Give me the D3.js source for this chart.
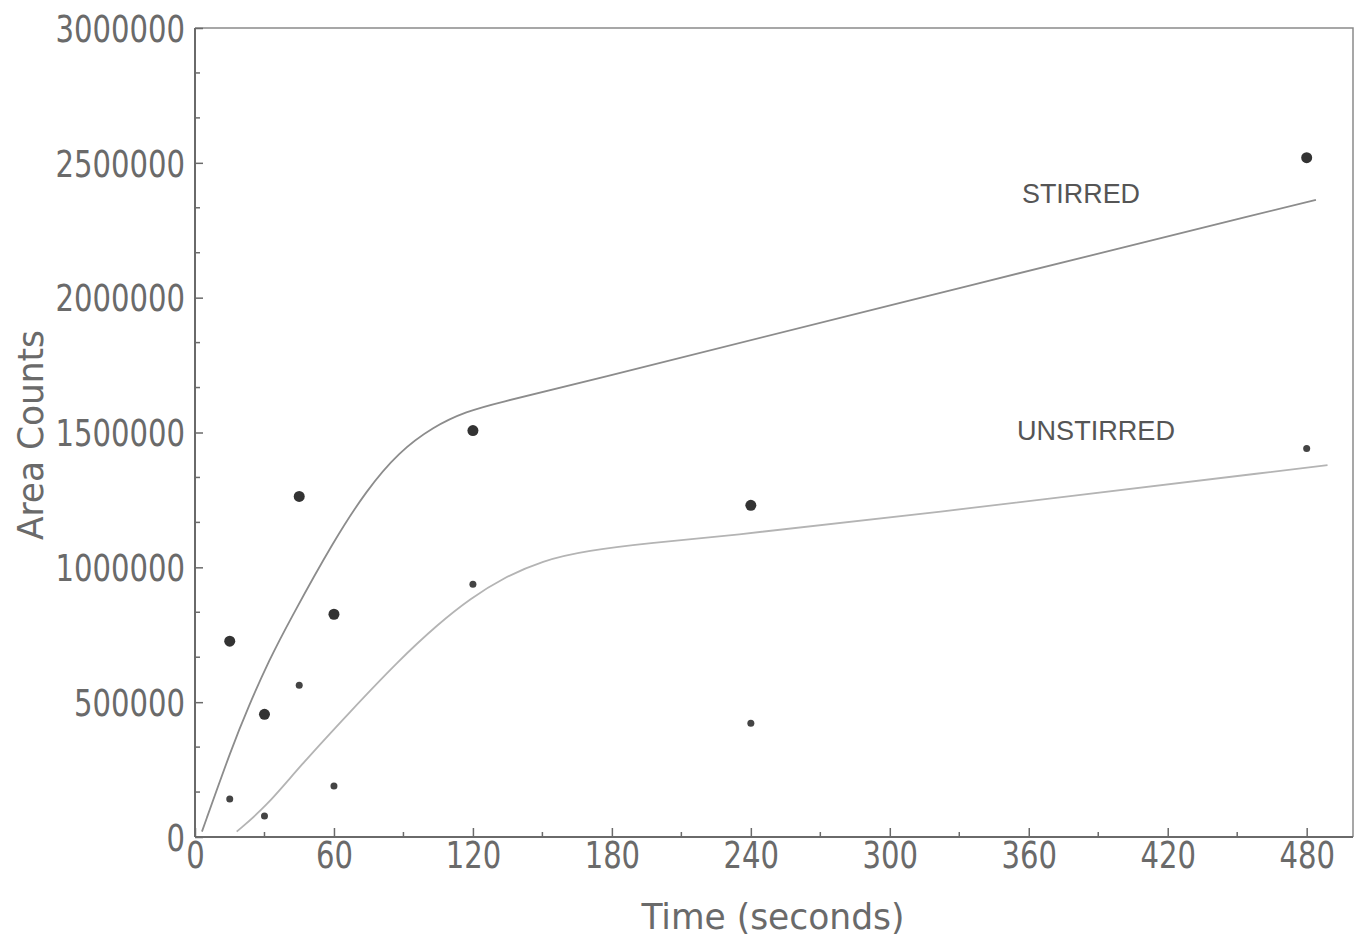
<!DOCTYPE html>
<html>
<head>
<meta charset="utf-8">
<script src="https://cdn.jsdelivr.net/npm/d3@7"></script>
<style>
  body { margin: 0; background: #fff; }
  svg { display: block; }
</style>
</head>
<body>
<svg id="chart" width="1354" height="940" viewBox="0 0 1354 940"></svg>
<script>
// measured points
const times = [15, 30, 45, 60, 120, 240, 480]
const stirred = [726000, 455000, 1263000, 826000, 1507000, 1230000, 2519000]
const unstirred = [141000, 78000, 563000, 189000, 937000, 422000, 1441000]

// fitted curves as drawn on the plot
const stirredFitT = [3, 16, 23, 32, 41, 60, 74, 88, 103, 117, 132, 158, 304, 484]
const stirredFitV = [20000, 334000, 482000, 656000, 805000, 1100000, 1285000, 1428000, 1522000, 1578000, 1613000, 1665000, 1981000, 2363000]
const unstirredFitT = [18, 31, 45, 67, 88, 105, 119, 133, 150, 169, 198, 227, 304, 489]
const unstirredFitV = [20000, 115000, 260000, 465000, 655000, 790000, 885000, 960000, 1025000, 1062000, 1092000, 1114000, 1187000, 1379000]

const xTicks = [0, 60, 120, 180, 240, 300, 360, 420, 480]
const yTicks = [0, 500000, 1000000, 1500000, 2000000, 2500000, 3000000]

let svg = d3.select("#chart")
const mLeft = 195, mRight = 1353, mTop = 28, mBottom = 837

let x = d3.scaleLinear().domain([0, 500]).range([mLeft, mRight])
let y = d3.scaleLinear().domain([0, 3000000]).range([mBottom, mTop])

const axisColor = "#6a6a6a"
const textColor = "#6a6a6a"
const plotFont = "'DejaVu Sans Condensed', 'Liberation Sans Narrow', sans-serif"

// frame (top + right)
svg.append("path")
    .attr("d", `M${mLeft},${mTop}H${mRight}V${mBottom}`)
    .attr("fill", "none")
    .attr("stroke", "#8a8a8a")
    .attr("stroke-width", 1.5)

// minor ticks
let minorX = d3.range(30, 500, 60)
let minorY = d3.range(0, 3000001, 500000 / 3).filter(v => Math.round(v) % 500000 !== 0)

let xAxis = svg.append("g")
    .attr("transform", `translate(0,${mBottom})`)
    .call(d3.axisBottom(x).tickValues(xTicks).tickSize(-9).tickPadding(24).tickFormat(d3.format("d")))
let yAxis = svg.append("g")
    .attr("transform", `translate(${mLeft},0)`)
    .call(d3.axisLeft(y).tickValues(yTicks).tickSize(-8).tickPadding(10).tickFormat(d3.format("d")))

xAxis.selectAll(".tick line").attr("stroke", axisColor).attr("stroke-width", 1.5)
yAxis.selectAll(".tick line").attr("stroke", axisColor).attr("stroke-width", 1.5)
xAxis.select(".domain").attr("stroke", axisColor).attr("stroke-width", 2).attr("d", `M${mLeft},0H${mRight}`)
yAxis.select(".domain").attr("stroke", axisColor).attr("stroke-width", 2).attr("d", `M0,${mTop}V${mBottom}`)

svg.append("g").selectAll("line")
    .data(minorX)
    .enter().append("line")
    .attr("x1", d => x(d)).attr("x2", d => x(d))
    .attr("y1", mBottom).attr("y2", mBottom - 5)
    .attr("stroke", axisColor).attr("stroke-width", 1.5)
svg.append("g").selectAll("line")
    .data(minorY)
    .enter().append("line")
    .attr("x1", mLeft - 1).attr("x2", mLeft + 5)
    .attr("y1", d => y(d)).attr("y2", d => y(d))
    .attr("stroke", axisColor).attr("stroke-width", 1.5)

// tick label styling: tall narrow plotter digits
svg.selectAll(".tick text")
    .attr("fill", textColor)
    .attr("font-family", plotFont)
    .attr("font-size", 37)
    .attr("lengthAdjust", "spacingAndGlyphs")
    .attr("textLength", function () { return this.textContent.length * 18.5 })
yAxis.selectAll(".tick text").attr("dy", "0.36em")
xAxis.selectAll(".tick text").attr("dy", "0.2em")

// axis titles
svg.append("text")
    .attr("x", 773).attr("y", 929)
    .attr("text-anchor", "middle")
    .attr("fill", textColor)
    .attr("font-family", plotFont)
    .attr("font-size", 35)
    .attr("lengthAdjust", "spacingAndGlyphs")
    .attr("textLength", 263)
    .text("Time (seconds)")
svg.append("text")
    .attr("transform", "translate(43,435) rotate(-90)")
    .attr("text-anchor", "middle")
    .attr("fill", textColor)
    .attr("font-family", plotFont)
    .attr("font-size", 36)
    .attr("lengthAdjust", "spacingAndGlyphs")
    .attr("textLength", 210)
    .text("Area Counts")

// fitted curves
let line = d3.line()
    .x(d => x(d[0]))
    .y(d => y(d[1]))
    .curve(d3.curveBasis)

svg.append("path")
    .datum(d3.zip(stirredFitT, stirredFitV))
    .attr("d", line)
    .attr("fill", "none")
    .attr("stroke", "#8c8c8c")
    .attr("stroke-width", 1.8)
svg.append("path")
    .datum(d3.zip(unstirredFitT, unstirredFitV))
    .attr("d", line)
    .attr("fill", "none")
    .attr("stroke", "#b4b4b4")
    .attr("stroke-width", 1.8)

// data points
svg.append("g").selectAll("circle")
    .data(d3.zip(times, stirred))
    .enter().append("circle")
    .attr("cx", d => x(d[0]))
    .attr("cy", d => y(d[1]))
    .attr("r", 5.5)
    .attr("fill", "#333")
svg.append("g").selectAll("circle")
    .data(d3.zip(times, unstirred))
    .enter().append("circle")
    .attr("cx", d => x(d[0]))
    .attr("cy", d => y(d[1]))
    .attr("r", 3.5)
    .attr("fill", "#444")

// series labels
svg.append("text")
    .attr("x", 1022).attr("y", 203)
    .attr("fill", "#555")
    .attr("font-family", "'Liberation Sans', Arial, sans-serif")
    .attr("font-size", 27)
    .attr("lengthAdjust", "spacingAndGlyphs")
    .attr("textLength", 118)
    .text("STIRRED")
svg.append("text")
    .attr("x", 1017).attr("y", 440)
    .attr("fill", "#555")
    .attr("font-family", "'Liberation Sans', Arial, sans-serif")
    .attr("font-size", 27)
    .attr("lengthAdjust", "spacingAndGlyphs")
    .attr("textLength", 158)
    .text("UNSTIRRED")
</script>
</body>
</html>
